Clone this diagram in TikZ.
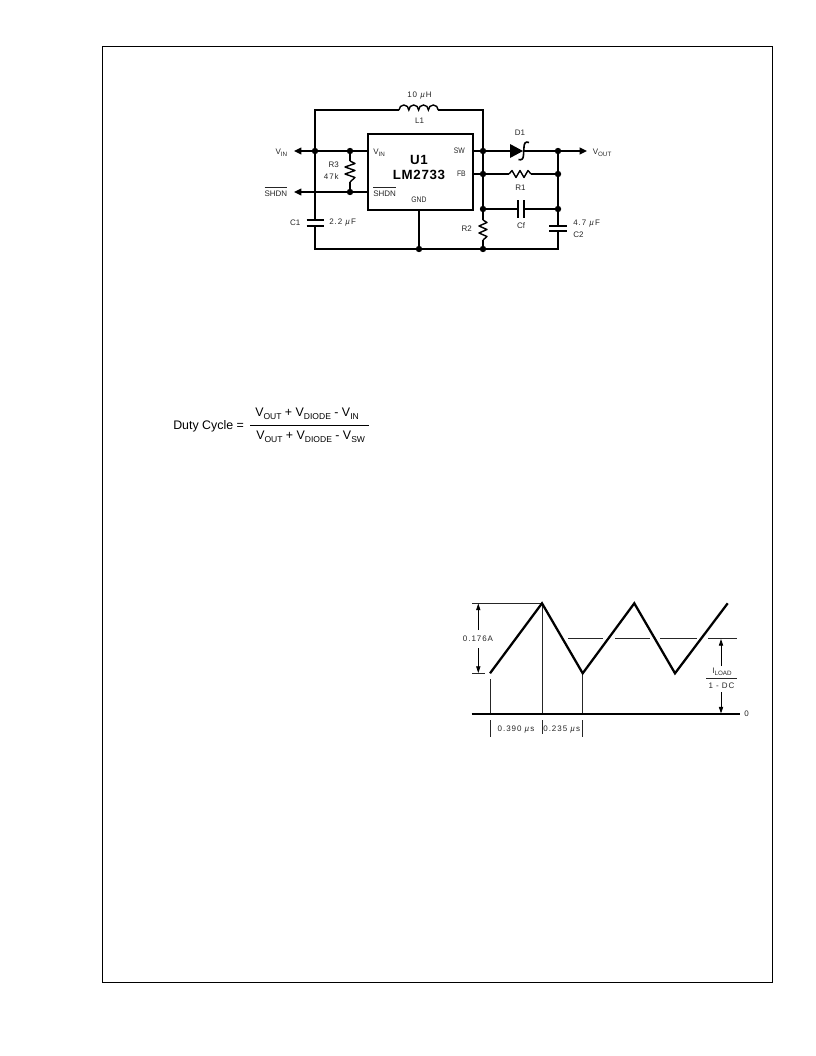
\documentclass[tikz,border=0pt]{standalone}
\usepackage{fontspec}
\setmainfont{Liberation Sans}
\newfontfamily\numfont[LetterSpace=12]{Liberation Sans}
\newfontfamily\narrowfont[FakeStretch=0.85]{Liberation Sans}
\newfontfamily\chipfont[LetterSpace=5]{Liberation Sans}
\usetikzlibrary{arrows.meta}
\tikzset{
 x=0.75pt,y=-0.75pt,
 wire/.style={line width=1.05pt,black},
 thick wire/.style={line width=1.5pt,black},
 wave/.style={line width=1.7pt,black,line join=miter},
 hair/.style={line width=0.55pt,black!85},
 sharp/.style={-{Triangle[length=5.5pt,width=5pt]},wire},
 dimarrow/.style={-{Triangle[length=5pt,width=3.2pt]},line width=0.6pt},
 dot/.style={circle,fill=black,inner sep=0pt,minimum size=4.8pt},
 lbl/.style={inner sep=0pt,font=\fontsize{6}{7}\selectfont,text=black!85},
 numlbl/.style={inner sep=0pt,font=\numfont\fontsize{6}{7}\selectfont,text=black!85},
 narrowlbl/.style={inner sep=0pt,font=\narrowfont\fontsize{6}{7}\selectfont,text=black!85},
 chip/.style={inner sep=0pt,font=\chipfont\bfseries\fontsize{10}{11.5}\selectfont,align=center},
 eq/.style={inner sep=0pt,font=\fontsize{9.3}{11}\selectfont},
}
\newcommand{\ssb}[1]{\raisebox{-0.5ex}{\fontsize{4.7}{5}\selectfont #1}}
\newcommand{\esb}[1]{\raisebox{-0.45ex}{\fontsize{6.4}{8}\selectfont #1}}
\newcommand{\barred}[1]{\begingroup\setbox0=\hbox{#1}\leavevmode\rlap{\rule[6.6pt]{\wd0}{0.4pt}}\box0\endgroup}
\begin{document}
\begin{tikzpicture}
\useasboundingbox (0,0) rectangle (816,1056);
\draw[line width=0.6pt] (102,46) rectangle (772,982);
% circuit points
\node[dot] (n1) at (315,151) {};
\node[dot] (n2) at (350,151) {};
\node[dot] (n3) at (350,192) {};
\node[dot] (n4) at (483,151) {};
\node[dot] (n5) at (483,174) {};
\node[dot] (n6) at (558,151) {};
\node[dot] (n7) at (558,174) {};
\node[dot] (n8) at (483,209) {};
\node[dot] (n9) at (558,209) {};
\node[dot] (n10) at (419,249) {};
\node[dot] (n11) at (483,249) {};
\coordinate (vin) at (294,151);
\coordinate (shdn) at (294,192);
\coordinate (vout) at (587,151);
\node[draw,line width=1.5pt,inner sep=0pt,anchor=north west] (u1) at (367,133) {\tikz\path (0,0) rectangle (105,76);};
\coordinate (tl) at (315,110);
\coordinate (tr) at (483,110);
\coordinate (bl) at (315,249);
\coordinate (br) at (558,249);
\coordinate (L1a) at (399,110);
\coordinate (L1b) at (438,110);
\coordinate (c1a) at (315,220);
\coordinate (c1b) at (315,226);
\coordinate (c2a) at (558,226);
\coordinate (c2b) at (558,231);
\coordinate (cfa) at (518,209);
\coordinate (cfb) at (524,209);
\coordinate (d1a) at (510,151);
\coordinate (d1b) at (523,151);
\coordinate (r1a) at (509,174);
\coordinate (r1b) at (531,174);
\coordinate (r2a) at (483,220);
\coordinate (r2b) at (483,240);
\coordinate (r3a) at (350,161);
\coordinate (r3b) at (350,182);
\coordinate (gndp) at (419,209);
\coordinate (vinp) at (367,151);
\coordinate (shdnp) at (367,192);
\coordinate (swp) at (472,151);
\coordinate (fbp) at (472,174);
% wires
\draw[wire] (L1a) -- (tl) -- (c1a);
\draw[wire] (c1b) -- (bl) -- (br) -- (c2b);
\draw[wire] (c2a) -- (n6);
\draw[wire] (L1b) -- (tr) -- (n4);
\draw[wire] (vinp) -- (n1);
\draw[sharp] (n1) -- (vin);
\draw[wire] (shdnp) -- (n3);
\draw[sharp] (n3) -- (shdn);
\draw[wire] (n2) -- (r3a);
\draw[wire] (r3b) -- (n3);
\draw[wire] (gndp) -- (n10);
\draw[wire] (swp) -- (d1a);
\draw[wire] (d1b) -- (n6);
\draw[sharp] (n6) -- (vout);
\draw[wire] (fbp) -- (r1a);
\draw[wire] (r1b) -- (n7);
\draw[wire] (n4) -- (n5);
\draw[wire] (n5) -- (r2a);
\draw[wire] (r2b) -- (n11);
\draw[wire] (n8) -- (cfa);
\draw[wire] (cfb) -- (n9);
% inductor
\draw[wire] (L1a) arc[start angle=180,end angle=360,x radius=4.9,y radius=5]
 arc[start angle=180,end angle=360,x radius=4.9,y radius=5]
 arc[start angle=180,end angle=360,x radius=4.9,y radius=5]
 arc[start angle=180,end angle=360,x radius=4.9,y radius=5];
% capacitors
\draw[thick wire] (306.5,220) -- (324,220) (306.5,226) -- (324,226);
\draw[thick wire] (549,226) -- (567,226) (549,231) -- (567,231);
\draw[thick wire] (518,200) -- (518,218) (524,200) -- (524,218);
% diode
\fill (d1a) ++(0,-7) -- ++(13,7) -- ++(-13,7) -- cycle;
\draw[line width=1.2pt] (529,142.5) .. controls (525.5,141) and (524,143.5) .. (524,147) -- (523.5,155) .. controls (523.5,159) and (521.5,160.5) .. (518.5,159.5);
% resistors
\draw[wire,line join=round] (r1a) -- ++(3,-3.5) -- ++(4,7) -- ++(4,-7) -- ++(4,7) -- ++(4,-7) -- ++(3,3.5);
\draw[wire,line join=round] (r2a) -- ++(4,2.5) -- ++(-8,3.5) -- ++(8,3.5) -- ++(-8,3.5) -- ++(8,3.5) -- ++(-4,3.5);
\draw[wire,line join=round] (r3a) -- ++(5,2.5) -- ++(-10,3.5) -- ++(10,3.5) -- ++(-10,3.5) -- ++(10,3.5) -- ++(-5,4.5);
% circuit labels
\node[numlbl] (tL) at (419.5,95.5) {10 \textit{µ}H};
\node[lbl] (tL1) at (419.5,121) {L1};
\node[lbl,anchor=east] (tvin) at (287.5,152.5) {V\ssb{IN}};
\node[lbl,anchor=east] (tshdn) at (287.5,192) {\barred{SHDN}};
\node[lbl,anchor=east] (tr3) at (339,165) {R3};
\node[numlbl,anchor=east] (t47) at (339,177) {47k};
\node[lbl,anchor=east] (tc1) at (300.5,223) {C1};
\node[numlbl,anchor=west] (tc1v) at (329,223) {2.2 \textit{µ}F};
\node[lbl,anchor=west] (pvin) at (373,152.5) {V\ssb{IN}};
\node[lbl,anchor=west] (pshdn) at (373,192) {\barred{SHDN}};
\node[narrowlbl] (pgnd) at (419,200) {GND};
\node[narrowlbl,anchor=east] (psw) at (465,151) {SW};
\node[narrowlbl,anchor=east] (pfb) at (466,174) {FB};
\node[chip] (tu1) at (419,167.5) {U1\\LM2733};
\node[lbl] (td1) at (520,133) {D1};
\node[lbl,anchor=west] (tvout) at (592.5,152.5) {V\ssb{OUT}};
\node[lbl] (tr1) at (520.5,188) {R1};
\node[lbl] (tcf) at (521,226) {Cf};
\node[lbl,anchor=east] (tr2) at (472,229) {R2};
\node[numlbl,anchor=west] (tc2v) at (573,224) {4.7 \textit{µ}F};
\node[lbl,anchor=west] (tc2) at (573,235) {C2};
% equation
\node[eq,anchor=west] (duty) at (173,426) {Duty Cycle =};
\node[eq,anchor=west] (num) at (255,414) {V\esb{OUT} + V\esb{DIODE} - V\esb{IN}};
\node[eq,anchor=west] (den) at (256,437) {V\esb{OUT} + V\esb{DIODE} - V\esb{SW}};
\draw[line width=0.7pt] (250,425.5) -- (369,425.5);
% waveform
\coordinate (p0) at (490,673.3);
\coordinate (p1) at (542,603.3);
\coordinate (p2) at (582.7,673.3);
\coordinate (p3) at (634.3,603.3);
\coordinate (p4) at (675,673.3);
\coordinate (p5) at (727.7,603.3);
\coordinate (b0) at (471.7,714);
\coordinate (b1) at (740,714);
\draw[hair] (472,603.3) -- (p1);
\draw[hair] (472,673.3) -- (485,673.3);
\draw[hair] (p1) -- (542,714);
\draw[hair] (490,679) -- (490,714);
\draw[hair] (p2) -- (582.7,714);
\draw[wave] (p0) -- (p1) -- (p2) -- (p3) -- (p4) -- (p5);
\draw[line width=1.8pt] (b0) -- (b1);
\draw[hair] (568.3,638.3) -- (603.3,638.3) (615,638.3) -- (650,638.3) (660,638.3) -- (696.7,638.3) (708,638.3) -- (736.7,638.3);
\draw[hair] (490,720) -- (490,737) (542,720) -- (542,733.5) (582.7,720) -- (582.7,737);
\draw[dimarrow] (478.3,630) -- (478.3,603.5);
\draw[dimarrow] (478.3,648) -- (478.3,673);
\draw[dimarrow] (721,666) -- (721,639);
\draw[dimarrow] (721,692) -- (721,713.5);
\draw[hair] (706,678) -- (736.7,678);
\node[numlbl] (t176) at (478,639) {0.176A};
\node[lbl] (tload) at (722,671.5) {I\ssb{LOAD}};
\node[numlbl] (tdc) at (721.5,685.5) {1 - DC};
\node[lbl] (t0) at (746.5,714) {0};
\node[numlbl] (t390) at (516,729.5) {0.390 \textit{µ}s};
\node[numlbl] (t235) at (561.7,729.5) {0.235 \textit{µ}s};
\end{tikzpicture}
\end{document}
